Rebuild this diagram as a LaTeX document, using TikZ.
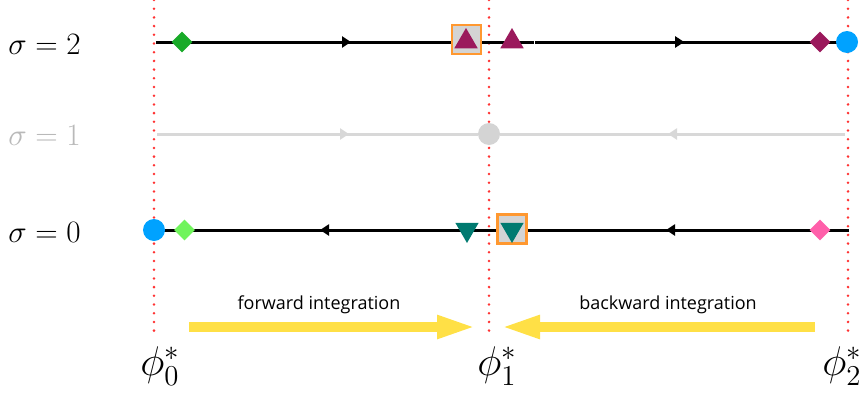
\documentclass[tikz,border=0pt]{standalone}
\usepackage{fontspec}
\setsansfont{Open Sans}
\usepackage{amsmath, amssymb}
\usetikzlibrary{arrows.meta, shapes.geometric, decorations.markings}

\definecolor{guidered}{RGB}{255,50,50}
\definecolor{faintgray}{RGB}{216,216,216}
\definecolor{labelgray}{RGB}{185,185,185}
\definecolor{pickorange}{RGB}{255,152,48}
\definecolor{pickgray}{RGB}{212,212,212}
\definecolor{dgreen}{RGB}{24,170,40}
\definecolor{lgreen}{RGB}{112,244,92}
\definecolor{plum}{RGB}{155,25,92}
\definecolor{skyblue}{RGB}{0,162,255}
\definecolor{tealmark}{RGB}{0,122,112}
\definecolor{pinkmark}{RGB}{255,95,170}
\definecolor{sweepyellow}{RGB}{255,224,70}

\begin{document}
\begin{tikzpicture}[x=1pt, y=-1pt,
    every node/.style={inner sep=0pt},
    guide/.style={guidered, line width=2.8pt, line cap=round, dash pattern=on 0pt off 8.7pt},
    track/.style={color=black, line width=3pt},
    faint/.style={color=faintgray, line width=3pt},
    tip at/.style={postaction={decorate, decoration={markings,
        mark=at position #1 with {\arrow{Triangle[length=9pt, width=11pt]}}}}},
    dia/.style={diamond, aspect=1, minimum size=21pt},
    tri/.style={regular polygon, regular polygon sides=3, minimum size=27pt},
    trid/.style={tri, shape border rotate=180},
    dot/.style={circle, minimum size=22pt},
    pick/.style={draw=pickorange, line width=2.5pt, fill=pickgray, minimum size=29pt},
    sweep/.style={draw=sweepyellow, line width=10pt, -{Triangle[length=40pt, width=21pt]}},
    sigma/.style={anchor=base west, font=\fontsize{20}{24}\selectfont, scale=1.5},
    phi/.style={font=\fontsize{20}{24}\selectfont, scale=2},
    caption/.style={font=\sffamily\fontsize{18}{22}\selectfont}]
    \useasboundingbox (0,0) rectangle (861,399);

    % Dotted guides at the fixed points
    \coordinate (top0) at (154,0);   \coordinate (bot0) at (154,335);
    \coordinate (top1) at (489,0);   \coordinate (bot1) at (489,335);
    \coordinate (top2) at (848,0);   \coordinate (bot2) at (848,335);
    \draw[guide] (top0) -- (bot0);
    \draw[guide] (top1) -- (bot1);
    \draw[guide] (top2) -- (bot2);

    % Row labels
    \node[sigma] (lab2) at (8,54) {$\sigma=2$};
    \node[sigma, text=labelgray] (lab1) at (8,145) {$\sigma=1$};
    \node[sigma] (lab0) at (8,242) {$\sigma=0$};

    % sigma = 2
    \coordinate (l2) at (156,42);
    \coordinate (g2a) at (534,42);
    \coordinate (g2b) at (535.2,42);
    \coordinate (r2) at (848,42);
    \draw[track, tip at=195pt] (l2) -- (g2a);
    \draw[track, tip at=149pt] (g2b) -- (r2);
    \node[pick] (box2) at (466.5,39.5) {};
    \node[dia, fill=dgreen] (start2) at (182,42) {};
    \node[tri, fill=plum] (up2a) at (466,41.5) {};
    \node[tri, fill=plum] (up2b) at (512,41.5) {};
    \node[dia, fill=plum] (end2) at (820,42) {};
    \node[dot, fill=skyblue] (fix2) at (847,42) {};

    % sigma = 1
    \node[dot, fill=pickgray] (c1) at (489,134) {};
    \coordinate (l1) at (157,134);
    \coordinate (r1) at (845,134);
    \draw[faint, tip at=192pt] (l1) -- (c1);
    \draw[faint, tip at=177pt] (r1) -- (c1);

    % sigma = 0
    \coordinate (l0) at (154,230);
    \coordinate (r0) at (849,230);
    \draw[track, tip at=183pt, tip at=529pt] (r0) -- (l0);
    \node[pick] (box0) at (512,229) {};
    \node[dot, fill=skyblue] (fix0) at (154,230) {};
    \node[dia, fill=lgreen] (start0) at (184.5,230) {};
    \node[trid, fill=tealmark] (dn0a) at (467,229.5) {};
    \node[trid, fill=tealmark] (dn0b) at (512,229.5) {};
    \node[dia, fill=pinkmark] (end0) at (820,230) {};

    % Integration directions
    \coordinate (fwdA) at (189,327);  \coordinate (fwdB) at (477,327);
    \coordinate (bwdA) at (815,327);  \coordinate (bwdB) at (500,327);
    \draw[sweep] (fwdA) -- (fwdB);
    \draw[sweep] (bwdA) -- (bwdB);
    \node[caption] (fwd) at (319,305) {forward integration};
    \node[caption] (bwd) at (668,305) {backward integration};

    % Fixed point labels
    \node[phi] (phi0) at (160,366) {$\phi^*_0$};
    \node[phi] (phi1) at (497,366) {$\phi^*_1$};
    \node[phi] (phi2) at (842,366) {$\phi^*_2$};
\end{tikzpicture}
\end{document}
